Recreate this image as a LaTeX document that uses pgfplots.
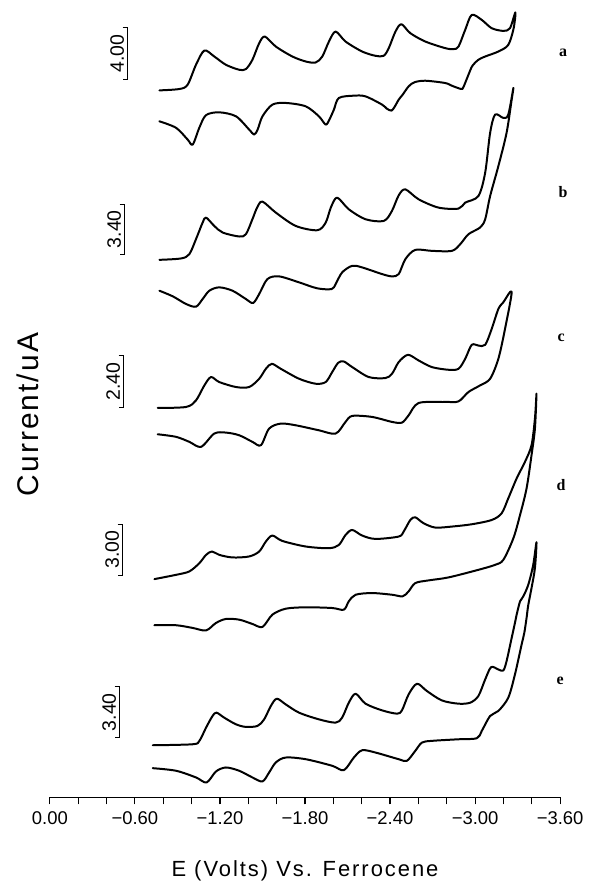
\documentclass[border=0pt]{standalone}
\usepackage{fontspec}
\setmainfont{Liberation Sans}
\newfontfamily\lserif{Liberation Serif}
\usepackage{pgfplots}
\pgfplotsset{compat=1.18}
\begin{document}
\begin{tikzpicture}[curve/.style={black, line width=1pt, line join=round, line cap=round, smooth, tension=0.5, mark=none}]
\begin{axis}[
  scale only axis,
  width=256pt, height=400pt,
  xmin=-3.6, xmax=0, ymin=0, ymax=800,
  x dir=reverse,
  axis x line*=bottom,
  axis y line=none,
  xtick={0,-0.6,-1.2,-1.8,-2.4,-3.0,-3.6},
  xticklabels={0.00,−0.60,−1.20,−1.80,−2.40,−3.00,−3.60},
  minor xtick={-0.2,-0.4,-0.8,-1.0,-1.4,-1.6,-2.0,-2.2,-2.6,-2.8,-3.2,-3.4},
  xtick align=outside,
  major tick length=3.5pt, minor tick length=3.5pt,
  tick style={black, line width=0.6pt},
  x axis line style={line width=0.75pt},
  ticklabel style={font=\fontsize{9.25}{11}\selectfont},
  clip=false,
]
% ---- a ----
\addplot[curve] coordinates {(-0.773,709.3)(-0.914,710.7)(-0.972,715)(-1.031,735)(-1.090,749.3)(-1.160,743.3)(-1.242,735)(-1.336,730)(-1.383,730.7)(-1.429,740)(-1.477,756.7)(-1.517,763.3)(-1.594,753.3)(-1.711,743.3)(-1.805,738.3)(-1.875,737.3)(-1.922,743.3)(-1.969,758.3)(-2.016,768.3)(-2.086,758.3)(-2.203,748.3)(-2.297,744)(-2.355,744)(-2.391,751.7)(-2.438,768.3)(-2.480,775.7)(-2.543,766.7)(-2.649,758.3)(-2.789,751.7)(-2.848,750.7)(-2.883,753.3)(-2.930,770)(-2.976,785)(-3.047,780)(-3.117,771.7)(-3.199,769)(-3.246,771.7)(-3.284,787.5)
(-3.272,771.7)(-3.234,755)(-3.164,748.3)(-3.071,743.3)(-3.023,740)(-2.981,734)(-2.953,725)(-2.918,712.7)(-2.902,710.7)(-2.836,714)(-2.789,716.7)(-2.649,719)(-2.573,717.5)(-2.531,713.3)(-2.489,705)(-2.461,700)(-2.433,693)(-2.410,689)(-2.377,691)(-2.344,695)(-2.227,703.3)(-2.145,704)(-2.039,701.7)(-2.004,690)(-1.972,680)(-1.946,675)(-1.898,683.3)(-1.805,693.3)(-1.664,696.7)(-1.570,695)(-1.500,683.3)(-1.466,670)(-1.441,665)(-1.406,670)(-1.313,683.3)(-1.195,687.3)(-1.102,684.5)(-1.055,672)(-1.008,655)(-0.972,660)(-0.891,671.7)(-0.773,678.3)};
% ---- b ----
\addplot[curve] coordinates {(-0.773,539.3)(-0.926,540.7)(-0.984,545)(-1.031,560)(-1.078,576.7)(-1.102,581.7)(-1.160,573.3)(-1.219,566.7)(-1.336,562.7)(-1.383,565)(-1.429,580)(-1.463,592)(-1.500,597.7)(-1.594,586.7)(-1.735,573.3)(-1.887,569)(-1.946,576.7)(-1.983,592)(-2.027,601.7)(-2.109,590)(-2.227,580)(-2.355,578.3)(-2.412,588)(-2.461,604)(-2.508,610)(-2.602,600)(-2.742,591.7)(-2.883,590.7)(-2.930,596.7)(-3.023,603.3)(-3.071,626.7)(-3.106,666.7)(-3.141,685)(-3.199,681.7)(-3.234,685)(-3.270,711.7)
(-3.258,700)(-3.222,666.7)(-3.164,633.3)(-3.106,603.3)(-3.071,580)(-3.035,571.7)(-2.953,565)(-2.895,555)(-2.836,548.3)(-2.695,548.3)(-2.578,549.3)(-2.508,540)(-2.461,525)(-2.414,522.7)(-2.344,525)(-2.203,531.7)(-2.133,533.3)(-2.062,526.7)(-2.016,515)(-1.988,510)(-1.887,510.7)(-1.758,516.7)(-1.617,522.7)(-1.535,520)(-1.477,505)(-1.434,496)(-1.383,500)(-1.289,508.3)(-1.195,511.7)(-1.125,508.3)(-1.078,500)(-1.031,492.3)(-0.961,495)(-0.867,502.7)(-0.773,508.3)};
% ---- c ----
\addplot[curve] coordinates {(-0.761,390.7)(-0.961,391.7)(-1.031,398.3)(-1.090,413.3)(-1.137,421.7)(-1.195,416.7)(-1.313,411.7)(-1.406,411.7)(-1.477,420)(-1.524,430)(-1.566,435)(-1.629,430)(-1.758,420)(-1.875,415)(-1.946,416.7)(-1.992,426.7)(-2.034,436)(-2.074,437.3)(-2.133,431.7)(-2.250,421.7)(-2.367,420.7)(-2.414,425)(-2.461,436.7)(-2.526,444)(-2.602,438.3)(-2.695,431.7)(-2.813,429)(-2.883,430)(-2.930,440)(-2.976,454)(-3.023,453.3)(-3.071,454)(-3.117,470)(-3.164,490)(-3.199,496.7)(-3.258,507.3)
(-3.211,470)(-3.164,440)(-3.106,420)(-3.035,413.3)(-2.953,406.7)(-2.883,397.3)(-2.789,396.7)(-2.602,395.7)(-2.531,383.3)(-2.484,376)(-2.414,376.7)(-2.273,381.7)(-2.133,382.7)(-2.086,376.7)(-2.016,365)(-1.898,368.3)(-1.735,373.3)(-1.629,375)(-1.547,370)(-1.489,353.3)(-1.429,356.7)(-1.336,363.3)(-1.242,366)(-1.160,365)(-1.067,351.7)(-0.984,356.7)(-0.891,361.7)(-0.761,364.3)};
% ---- d ----
\addplot[curve] coordinates {(-0.738,219)(-0.891,223.3)(-0.984,226.7)(-1.055,235)(-1.102,243.3)(-1.144,246.7)(-1.195,243.3)(-1.289,240.7)(-1.406,241.7)(-1.477,246.7)(-1.524,256.7)(-1.570,262.7)(-1.640,257.3)(-1.805,251.7)(-1.969,250)(-2.039,253.3)(-2.086,263.3)(-2.133,268.3)(-2.203,262.7)(-2.297,259.3)(-2.461,261.7)(-2.496,266.7)(-2.543,278.3)(-2.578,281)(-2.637,275)(-2.719,270.7)(-2.836,271.7)(-2.976,274)(-3.117,278.3)(-3.187,285)(-3.234,300)(-3.293,320)(-3.352,336.7)(-3.398,353.3)(-3.422,380)(-3.433,405)
(-3.422,370)(-3.398,343.3)(-3.363,310)(-3.317,283.3)(-3.270,260)(-3.199,238.3)(-3.141,233.3)(-3.023,228.3)(-2.813,220.7)(-2.672,217.7)(-2.578,215)(-2.531,206.7)(-2.489,201.7)(-2.414,203.3)(-2.273,205)(-2.157,203.3)(-2.109,196.7)(-2.074,188.3)(-1.992,190)(-1.805,190.7)(-1.664,189.3)(-1.570,183.3)(-1.500,171)(-1.429,174)(-1.336,178.3)(-1.242,179)(-1.172,175)(-1.102,167.5)(-1.008,170)(-0.891,172.7)(-0.738,172.7)};
% ---- e ----
\addplot[curve] coordinates {(-0.726,52.3)(-1.008,53.3)(-1.055,56.7)(-1.102,70)(-1.148,81.7)(-1.176,85)(-1.230,80)(-1.313,73.3)(-1.383,70.7)(-1.465,71.7)(-1.512,78.3)(-1.559,91.7)(-1.601,99)(-1.664,93.3)(-1.758,85)(-1.898,78.3)(-2.016,75)(-2.062,80)(-2.109,95)(-2.157,104)(-2.227,94)(-2.344,87.3)(-2.449,84)(-2.484,87.3)(-2.531,103.3)(-2.590,114)(-2.660,106.7)(-2.765,97.3)(-2.883,94)(-2.965,95)(-3.023,101.7)(-3.071,118.3)(-3.113,130.7)(-3.164,128.3)(-3.199,127.3)(-3.222,136.7)(-3.258,160)(-3.281,175)(-3.291,182)(-3.317,196.7)(-3.340,201.7)(-3.375,213.3)(-3.410,233.3)(-3.433,256)
(-3.422,230)(-3.398,210)(-3.375,193)(-3.363,180)(-3.347,165)(-3.328,153.3)(-3.281,123.3)(-3.234,100)(-3.164,86.7)(-3.106,81.7)(-3.047,66.7)(-3.012,59.3)(-2.883,58.3)(-2.695,56.7)(-2.625,55)(-2.578,46.7)(-2.519,36.7)(-2.461,38.3)(-2.297,45)(-2.203,47.3)(-2.145,40)(-2.074,27.3)(-1.992,31.7)(-1.805,38.3)(-1.664,40)(-1.594,35)(-1.547,25)(-1.500,16)(-1.429,20)(-1.336,26.7)(-1.242,30)(-1.172,26)(-1.106,15)(-1.031,20)(-0.891,26.7)(-0.726,29.3)};
% ---- scale bars ----
\addplot[black, line width=0.5pt, sharp plot, mark=none] coordinates {(-0.513,772)(-0.548,772)(-0.548,720)(-0.513,720)};
\addplot[black, line width=0.5pt, sharp plot, mark=none] coordinates {(-0.492,595)(-0.527,595)(-0.527,545)(-0.492,545)};
\addplot[black, line width=0.5pt, sharp plot, mark=none] coordinates {(-0.485,443)(-0.520,443)(-0.520,391)(-0.485,391)};
\addplot[black, line width=0.5pt, sharp plot, mark=none] coordinates {(-0.478,274)(-0.513,274)(-0.513,223)(-0.478,223)};
\addplot[black, line width=0.5pt, sharp plot, mark=none] coordinates {(-0.457,111)(-0.492,111)(-0.492,60)(-0.457,60)};
\begin{scope}[every node/.style={rotate=90, anchor=south, inner sep=1.5pt, font=\fontsize{9.75}{11}\selectfont}]
\node at (axis cs:-0.548,746) {4.00};
\node at (axis cs:-0.527,570) {3.40};
\node at (axis cs:-0.520,417) {2.40};
\node at (axis cs:-0.513,248.5) {3.00};
\node at (axis cs:-0.492,85.5) {3.40};
\end{scope}
\begin{scope}[every node/.style={font=\lserif\bfseries\fontsize{8}{9}\selectfont}]
\node at (axis cs:-3.621,747) {a};
\node at (axis cs:-3.621,607) {b};
\node at (axis cs:-3.607,461) {c};
\node at (axis cs:-3.607,313) {d};
\node at (axis cs:-3.600,117) {e};
\end{scope}
\node[rotate=90, font=\addfontfeature{LetterSpace=7}\fontsize{15}{17}\selectfont] at (axis cs:0.155,384) {Current/uA};
\node[font=\addfontfeature{LetterSpace=9}\fontsize{11}{13}\selectfont] at (axis cs:-1.8,-74) {E (Volts) Vs. Ferrocene};
\end{axis}
\path ([xshift=-25pt,yshift=-44pt]current axis.south west) ([xshift=13pt]current axis.north east);
\end{tikzpicture}
\end{document}
